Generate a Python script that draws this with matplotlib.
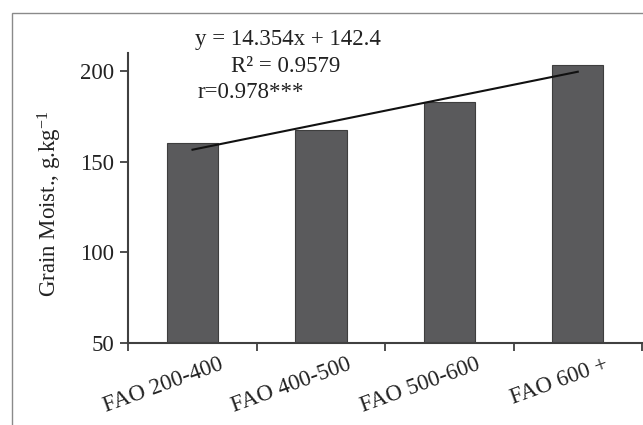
import matplotlib
matplotlib.use("Agg")
import matplotlib.pyplot as plt
import matplotlib.transforms as mtransforms
from matplotlib.patches import Rectangle
import numpy as np

categories = ["FAO 200-400", "FAO 400-500", "FAO 500-600", "FAO 600 +"]
grain_moisture = [160.4, 167.6, 183.0, 203.3]
trend_slope = 14.354
trend_intercept = 142.4
yticks = [50, 100, 150, 200]

plt.rcParams["font.family"] = ["Liberation Serif", "DejaVu Serif"]
plt.rcParams["mathtext.fontset"] = "custom"
plt.rcParams["mathtext.rm"] = "Liberation Serif"
plt.rcParams["mathtext.it"] = "Liberation Serif:italic"

FS = 16.5
DPI = 100
fig = plt.figure(figsize=(6.43, 4.25), dpi=DPI)

# outer chart frame (runs off the right and bottom edges)
fig.patches.append(Rectangle((11.7 / 643, -0.05), 1.2, 1 - 13.3 / 425 + 0.05,
                             transform=fig.transFigure, fill=False,
                             edgecolor="#8a8a8a", linewidth=1.0))

ax = fig.add_axes([128.3 / 643, (425 - 343) / 425, (642 - 128.3) / 643, (343 - 53.3) / 425])

x = np.arange(len(categories))
ax.bar(x, grain_moisture, width=0.4, bottom=0, color="#5a5a5c",
       edgecolor="#3e3e3e", linewidth=0.8, zorder=2)

# linear trend over category rank 1..n
rank = x + 1
ax.plot(x, trend_slope * rank + trend_intercept, color="#111111", linewidth=1.5, zorder=3)

ax.set_xlim(-0.5, len(categories) - 0.5)
ax.set_ylim(50, 210)
ax.set_yticks(yticks)
ax.set_yticklabels([str(v) for v in yticks], fontsize=FS)

# tick marks sit between categories; names are drawn slanted under each bar
ax.set_xticks(np.arange(len(categories) + 1) - 0.5)
ax.set_xticklabels([])
offset = mtransforms.ScaledTranslation(26 / DPI, -11 / DPI, fig.dpi_scale_trans)
label_trans = ax.get_xaxis_transform() + offset
for xi, name in zip(x, categories):
    ax.text(xi, 0, name, transform=label_trans, fontsize=FS, rotation=20,
            ha="right", va="top", rotation_mode="anchor", color="#222222")

ax.tick_params(axis="both", which="major", direction="out", length=6,
               width=1.3, color="#404040", colors="#222222")
ax.tick_params(axis="y", pad=4)

for side in ("top", "right"):
    ax.spines[side].set_visible(False)
for side in ("left", "bottom"):
    ax.spines[side].set_color("#404040")
    ax.spines[side].set_linewidth(1.5)

ax.set_ylabel(r"Grain Moist., g.kg$^{-1}$", fontsize=FS, color="#222222")
ax.yaxis.set_label_coords(-(128.3 - 64) / (642 - 128.3), 0.48)

# regression annotation
ax.text(195, 425 - 45, "y = 14.354x + 142.4", transform=None, fontsize=FS,
        color="#222222", va="baseline")
ax.text(231, 425 - 71.7, "R² = 0.9579", transform=None, fontsize=FS,
        color="#222222", va="baseline")
ax.text(198, 425 - 98, "r=0.978***", transform=None, fontsize=FS,
        color="#222222", va="baseline")

fig.savefig("out.png", dpi=DPI)
